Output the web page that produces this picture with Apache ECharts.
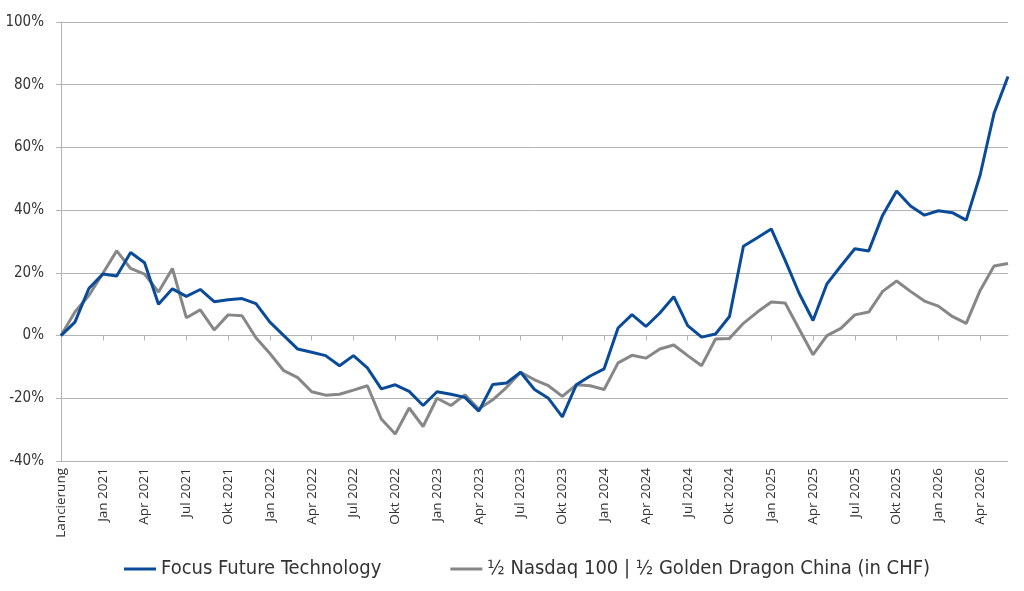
<!DOCTYPE html>
<html><head><meta charset="utf-8">
<script src="https://cdn.jsdelivr.net/npm/echarts@6/dist/echarts.min.js"></script>
<style>html,body{margin:0;padding:0;background:#fff}#c{width:1024px;height:591px}</style>
</head><body><div id="c"></div>
<script>
const categories = [
  "Lancierung","Nov 2020","Dez 2020",
  "Jan 2021","Feb 2021","Mär 2021","Apr 2021","Mai 2021","Jun 2021","Jul 2021","Aug 2021","Sep 2021","Okt 2021","Nov 2021","Dez 2021",
  "Jan 2022","Feb 2022","Mär 2022","Apr 2022","Mai 2022","Jun 2022","Jul 2022","Aug 2022","Sep 2022","Okt 2022","Nov 2022","Dez 2022",
  "Jan 2023","Feb 2023","Mär 2023","Apr 2023","Mai 2023","Jun 2023","Jul 2023","Aug 2023","Sep 2023","Okt 2023","Nov 2023","Dez 2023",
  "Jan 2024","Feb 2024","Mär 2024","Apr 2024","Mai 2024","Jun 2024","Jul 2024","Aug 2024","Sep 2024","Okt 2024","Nov 2024","Dez 2024",
  "Jan 2025","Feb 2025","Mär 2025","Apr 2025","Mai 2025","Jun 2025","Jul 2025","Aug 2025","Sep 2025","Okt 2025","Nov 2025","Dez 2025",
  "Jan 2026","Feb 2026","Mär 2026","Apr 2026","Mai 2026","Jun 2026"
];
const seriesNames = ["Focus Future Technology", "½ Nasdaq 100 | ½ Golden Dragon China (in CHF)"];
const fundValues = [
  0, 4.3, 15, 19.6, 19, 26.5, 23.2, 10, 14.9, 12.5, 14.7, 10.8, 11.4, 11.8, 10.2,
  4.3, 0, -4.3, -5.3, -6.4, -9.6, -6.4, -10.3, -17, -15.7, -17.8, -22.3,
  -17.9, -18.7, -19.7, -24.1, -15.6, -15.1, -11.7, -17.2, -20, -25.9, -15.7, -12.9,
  -10.6, 2.4, 6.7, 2.9, 7.2, 12.4, 3.2, -0.5, 0.5, 6.1, 28.5, 31.2,
  34, 24, 13.5, 4.8, 16.5, 22.2, 27.7, 27, 38.4, 46.1, 41.3, 38.4,
  39.8, 39.2, 36.8, 51.2, 70.9, 82.6
];
const benchValues = [
  0, 7.5, 12.8, 19.8, 27, 21.4, 19.6, 13.9, 21.4, 5.7, 8.2, 1.8, 6.6, 6.3, -0.7,
  -5.7, -11.2, -13.4, -17.9, -19, -18.7, -17.4, -16, -26.6, -31.4, -23.1, -29,
  -20, -22.3, -18.9, -23.4, -20.5, -16.5, -11.7, -14.1, -16, -19.4, -15.7, -16,
  -17.2, -8.7, -6.3, -7.2, -4.3, -3, -6.4, -9.6, -1.1, -0.9, 3.9, 7.5,
  10.7, 10.4, 2.1, -6.1, 0, 2.3, 6.6, 7.5, 14.1, 17.4, 14.1, 11,
  9.4, 6.1, 3.9, 14.4, 22.2, 23
];
const yMin = -40, yMax = 100, yStep = 20;

const narrow = '"Liberation Sans Narrow", "DejaVu Sans Condensed", sans-serif';
const gridColor = '#b3b3b3';
const chart = echarts.init(document.getElementById('c'), null, {renderer: 'canvas'});
chart.setOption({
  animation: false,
  backgroundColor: '#fff',
  grid: {left: 61, right: 16, top: 22, bottom: 130, containLabel: false},
  legend: {
    data: seriesNames,
    left: 119, top: 554,
    icon: 'rect', itemWidth: 32, itemHeight: 3, itemGap: 69,
    textStyle: {fontFamily: narrow, fontSize: 20, color: '#333'}
  },
  xAxis: [
    {
      type: 'category', data: categories, boundaryGap: false, position: 'bottom',
      axisLine: {show: false, onZero: false}, axisTick: {show: false},
      axisLabel: {interval: 2, rotate: 90, margin: 7, fontFamily: '"Open Sans", sans-serif', fontSize: 13.5, color: '#333'},
      splitLine: {show: false}
    },
    {
      type: 'category', data: categories, boundaryGap: false, position: 'bottom',
      axisLine: {show: true, onZero: true, lineStyle: {color: gridColor, width: 1}},
      axisTick: {show: true, interval: 2, length: 5, lineStyle: {color: gridColor}},
      axisLabel: {show: false}, splitLine: {show: false}
    }
  ],
  yAxis: {
    type: 'value', min: yMin, max: yMax, interval: yStep,
    axisLine: {show: true, lineStyle: {color: gridColor}},
    axisTick: {show: true, length: 5, lineStyle: {color: gridColor}},
    axisLabel: {formatter: '{value}%', margin: 17, fontFamily: narrow, fontSize: 15, color: '#333'},
    splitLine: {show: true, lineStyle: {color: gridColor, width: 1}}
  },
  series: [
    {name: seriesNames[0], type: 'line', data: fundValues, xAxisIndex: 0, symbol: 'none',
     lineStyle: {color: '#0a4b99', width: 3}, itemStyle: {color: '#0a4b99'}, z: 3},
    {name: seriesNames[1], type: 'line', data: benchValues, xAxisIndex: 0, symbol: 'none',
     lineStyle: {color: '#878787', width: 3}, itemStyle: {color: '#878787'}, z: 2}
  ]
});
</script></body></html>
